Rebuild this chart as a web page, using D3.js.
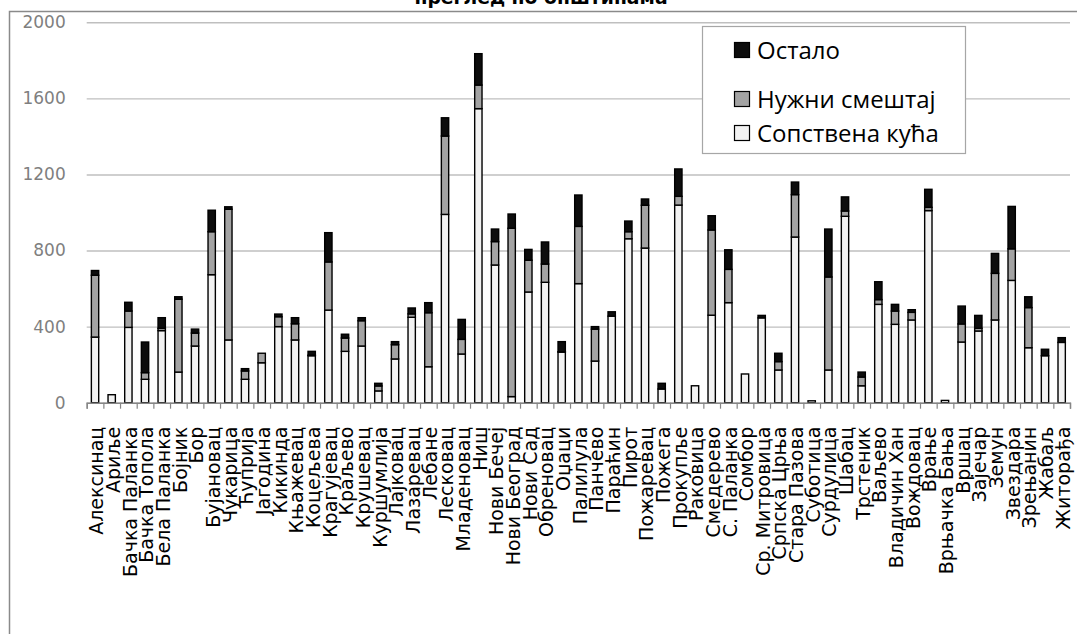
<!DOCTYPE html>
<html>
<head>
<meta charset="utf-8">
<script src="https://cdn.jsdelivr.net/npm/d3@7"></script>
<style>
  html, body { margin: 0; padding: 0; background: #ffffff; }
  svg { display: block; }
</style>
</head>
<body>
<svg id="chart" width="1077" height="634"></svg>
<script>
// Општине (категорије на x-оси)
const categories = [
  "Алексинац", "Ариље", "Бачка Паланка", "Бачка Топола", "Бела Паланка", "Бојник", "Бор",
  "Бујановац", "Чукарица", "Ћуприја", "Јагодина", "Кикинда", "Књажевац", "Коцељева",
  "Крагујевац", "Краљево", "Крушевац", "Куршумлија", "Лајковац", "Лазаревац", "Лебане",
  "Лесковац", "Младеновац", "Ниш", "Нови Бечеј", "Нови Београд", "Нови Сад", "Обреновац",
  "Оџаци", "Палилула", "Панчево", "Параћин", "Пирот", "Пожаревац", "Пожега", "Прокупље",
  "Раковица", "Смедерево", "С. Паланка", "Сомбор", "Ср. Митровица", "Српска Црња",
  "Стара Пазова", "Суботица", "Сурдулица", "Шабац", "Трстеник", "Ваљево", "Владичин Хан",
  "Вождовац", "Врање", "Врњачка Бања", "Вршац", "Зајечар", "Земун", "Звездара", "Зрењанин",
  "Жабаљ", "Житорађа"
];

// Серије (сложени стубићи, одоздо нагоре)
const sopstvenaKuca = [
  345, 42, 396, 123, 379, 161, 298, 673, 330, 123, 210, 400, 330, 247, 487, 270, 298, 62,
  230, 449, 189, 990, 256, 1546, 724, 32, 582, 633, 266, 626, 219, 455, 862, 813, 72, 1039,
  89, 460, 526, 151, 446, 172, 871, 10, 172, 980, 89, 517, 412, 435, 1010, 12, 319, 377,
  435, 643, 289, 247, 317
];
const nuzniSmestaj = [
  325, 0, 86, 35, 12, 383, 68, 226, 687, 44, 50, 52, 85, 3, 253, 70, 133, 26, 75, 18, 284,
  412, 77, 124, 123, 885, 167, 96, 2, 301, 168, 0, 37, 225, 0, 46, 0, 448, 175, 0, 0, 44,
  223, 0, 489, 28, 46, 25, 70, 40, 17, 0, 95, 14, 245, 166, 211, 0, 0
];
const ostalo = [
  25, 0, 46, 161, 56, 13, 21, 113, 13, 12, 0, 14, 32, 20, 154, 20, 16, 14, 16, 31, 53, 96,
  105, 165, 66, 75, 57, 116, 53, 165, 13, 23, 56, 33, 30, 144, 0, 75, 103, 0, 13, 44, 66,
  0, 252, 74, 26, 94, 35, 14, 95, 0, 94, 68, 105, 223, 57, 34, 25
];

const seriesNames = ["Сопствена кућа", "Нужни смештај", "Остало"];
const yTicks = [0, 400, 800, 1200, 1600, 2000];
const titleText = "преглед по општинама";

// ---- layout ----
const svg = d3.select("#chart");
const plot = { left: 86.7, right: 1070, top: 22.3, bottom: 402.7 };
const fills = { "Сопствена кућа": "#f2f2f2", "Нужни смештај": "#a3a3a3", "Остало": "#0d0d0d" };

const rows = categories.map((c, i) => ({
  name: c,
  "Сопствена кућа": sopstvenaKuca[i],
  "Нужни смештај": nuzniSmestaj[i],
  "Остало": ostalo[i]
}));
const stacked = d3.stack().keys(seriesNames)(rows);

const x = d3.scaleBand()
  .domain(categories)
  .range([plot.left, plot.right])
  .paddingInner(0.56)
  .paddingOuter(0.28);
const y = d3.scaleLinear().domain([0, 2000]).range([plot.bottom, plot.top]);

// outer frame (top and left edges visible)
svg.append("path")
  .attr("d", `M9.5,634 V11.5 H1077`)
  .attr("fill", "none")
  .attr("stroke", "#8a8a8a")
  .attr("stroke-width", 1.5);

// title
svg.append("text")
  .attr("x", 541)
  .attr("y", 4)
  .attr("text-anchor", "middle")
  .attr("font-family", "DejaVu Sans, sans-serif")
  .attr("font-weight", "bold")
  .attr("font-size", 18.8)
  .attr("fill", "#000")
  .text(titleText);

// y axis with gridlines
const yAxis = svg.append("g")
  .attr("transform", `translate(${plot.left},0)`)
  .call(d3.axisLeft(y)
    .tickValues(yTicks)
    .tickSize(-(plot.right - plot.left))
    .tickPadding(21)
    .tickFormat(d3.format("d")));
yAxis.select(".domain").remove();
yAxis.selectAll(".tick line")
  .attr("stroke", "#bfbfbf")
  .attr("stroke-width", 1.4);
yAxis.selectAll(".tick text")
  .attr("fill", "#7f7f7f")
  .attr("font-family", "DejaVu Sans, sans-serif")
  .attr("font-size", 17);

// bars
const layer = svg.append("g").selectAll("g")
  .data(stacked)
  .join("g")
  .attr("fill", d => fills[d.key]);
layer.selectAll("rect")
  .data(d => d.filter(s => s[1] - s[0] > 0))
  .join("rect")
  .attr("x", d => x(d.data.name))
  .attr("width", x.bandwidth())
  .attr("y", d => y(d[1]))
  .attr("height", d => y(d[0]) - y(d[1]))
  .attr("stroke", "#000")
  .attr("stroke-width", 1.4);

// x axis: boundary ticks between categories
const xEdges = d3.scaleLinear().domain([0, categories.length]).range([plot.left, plot.right]);
const xTickAxis = svg.append("g")
  .attr("transform", `translate(0,${plot.bottom})`)
  .call(d3.axisBottom(xEdges)
    .tickValues(d3.range(0, categories.length + 1))
    .tickSize(6)
    .tickFormat(""));
xTickAxis.select(".domain").attr("stroke", "#868686").attr("stroke-width", 1.4);
xTickAxis.selectAll(".tick line").attr("stroke", "#868686").attr("stroke-width", 1.2);

// x axis: category labels, rotated
const xLabelAxis = svg.append("g")
  .attr("transform", `translate(0,${plot.bottom})`)
  .call(d3.axisBottom(x).tickSize(0));
xLabelAxis.select(".domain").remove();
xLabelAxis.selectAll(".tick text")
  .attr("transform", "rotate(-90)")
  .attr("text-anchor", "end")
  .attr("x", -24)
  .attr("y", 1.5)
  .attr("dy", "0.35em")
  .attr("fill", "#000")
  .attr("font-family", "DejaVu Sans, sans-serif")
  .attr("font-size", 19);

// legend
const legend = svg.append("g");
legend.append("rect")
  .attr("x", 702.5).attr("y", 26.5)
  .attr("width", 263).attr("height", 127)
  .attr("fill", "#fff")
  .attr("stroke", "#a6a6a6")
  .attr("stroke-width", 1.2);
const legendItems = [
  { key: "Остало", cy: 50 },
  { key: "Нужни смештај", cy: 99 },
  { key: "Сопствена кућа", cy: 133 }
];
const li = legend.selectAll("g.item")
  .data(legendItems)
  .join("g")
  .attr("class", "item");
li.append("rect")
  .attr("x", 734.5)
  .attr("y", d => d.cy - 7.5)
  .attr("width", 15)
  .attr("height", 15)
  .attr("fill", d => fills[d.key])
  .attr("stroke", "#000")
  .attr("stroke-width", 1.2);
li.append("text")
  .attr("x", 757)
  .attr("y", d => d.cy)
  .attr("dy", "0.36em")
  .attr("font-family", "Open Sans, sans-serif")
  .attr("font-size", 24)
  .attr("fill", "#000")
  .text(d => d.key);
</script>
</body>
</html>
